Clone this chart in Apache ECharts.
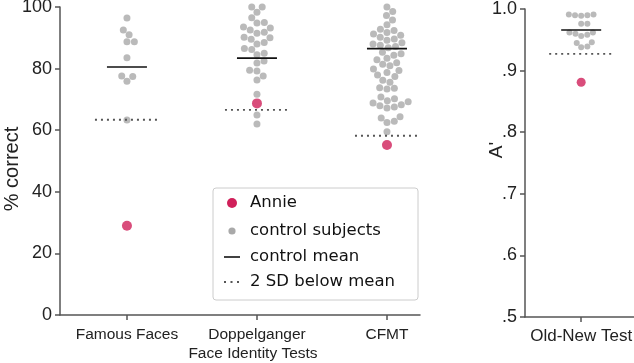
<!DOCTYPE html>
<html><head><meta charset="utf-8">
<script src="https://cdn.jsdelivr.net/npm/echarts@6/dist/echarts.min.js"></script>
<style>html,body{margin:0;padding:0;background:#fff}#c{width:634px;height:363px}</style>
</head><body><div id="c"></div>
<script>
// ---- data ----
const faceTests = ['Famous Faces', 'Doppelganger', 'CFMT'];
const oldNewTests = ['Old-New Test'];
const famousControls = [96.4, 92.5, 91.0, 88.7, 88.7, 83.5, 77.6, 77.4, 75.9, 63.3];
const doppelControls = [100, 100, 98.3, 96.5, 95, 94.8, 93.5, 93.2, 92.5, 91.8, 91.5, 90.2, 90, 89.5, 88.5, 88, 86.5, 86.2, 85, 84.5,
  82.5, 81.8, 79.5, 79.2, 77.6, 76.3, 71.7, 64.9, 62];
const cfmtControls = [100, 98.5, 97.2, 95.8, 94.2, 92.8, 92.4, 91.7, 91.2, 90.8, 90.2, 89.6, 89.2, 88.4, 88, 87.6, 87.2, 86.8,
  85.3, 84.8, 84.3, 83.4, 82.9, 81.9, 81.4, 80.9, 79.9, 79.4, 78.7, 77.9, 77.4, 76.2, 75.6, 73.8, 73.6, 73.4,
  70.8, 70.2, 69.6, 69.2, 68.8, 68.3, 67.9, 67.5, 67.2, 64.4, 64, 62.9, 62.5, 59.5];
const oldNewControls = [0.991, 0.991, 0.990, 0.990, 0.989, 0.976, 0.976, 0.962, 0.962, 0.960, 0.958, 0.956, 0.946, 0.945, 0.939, 0.938];
const annieFace = [29.0, 68.7, 55.2];
const annieOldNew = [0.881];
const faceMeans = [80.5, 83.4, 86.5];
const faceSD2 = [63.4, 66.6, 58.2];
const oldNewMean = [0.966];
const oldNewSD2 = [0.927];
const leftTickLabels = ['0', '20', '40', '60', '80', '100'];
const rightTickLabels = ['.5', '.6', '.7', '.8', '.9', '1.0'];
const legendNames = ['Annie', 'control subjects', 'control mean', '2 SD below mean'];

// ---- styles ----
const RED = '#d0205a', GRAY = '#a9a9a9', AX = '#555', TXT = '#222';
const SANS = 'Liberation Sans, Arial, Helvetica, sans-serif';
const LEG = 'DejaVu Sans, sans-serif';

const chart = echarts.init(document.getElementById('c'));

function seg(half, style) {
  return function (params, api) {
    const p = api.coord([api.value(0), api.value(1)]);
    return { type: 'line', shape: { x1: p[0] - half, y1: p[1], x2: p[0] + half, y2: p[1] }, style: style };
  };
}
const meanStyle = { stroke: '#111', lineWidth: 1.6 };
const sdStyle = { stroke: '#555', lineWidth: 1.8, lineDash: [2, 4] };

const axisBase = {
  axisLine: { show: true, onZero: false, lineStyle: { color: AX, width: 1.5 } },
  axisTick: { show: true, length: 5, lineStyle: { color: AX, width: 1.5 } },
  splitLine: { show: false }
};

const option = {
  animation: false,
  grid: [
    { left: 60, top: 7, right: 214, bottom: 48, containLabel: false, outerBoundsMode: 'none' },
    { left: 525, top: 9, right: 0, bottom: 46, containLabel: false, outerBoundsMode: 'none' }
  ],
  xAxis: [
    Object.assign({}, axisBase, {
      gridIndex: 0, type: 'value', min: -0.515, max: 2.254,
      axisTick: { show: true, length: 5, customValues: [0, 1, 2], lineStyle: { color: AX, width: 1.5 } },
      axisLabel: { customValues: [0, 1, 2], formatter: v => faceTests[Math.round(v)], color: TXT, fontSize: 15.5, fontFamily: SANS, margin: 12 },
      name: 'Face Identity Tests', nameLocation: 'middle', nameGap: 31, nameMoveOverlap: false,
      nameTextStyle: { color: TXT, fontSize: 15.5, fontFamily: SANS, padding: [0, 0, 0, 26] }
    }),
    Object.assign({}, axisBase, {
      gridIndex: 1, type: 'value', min: -0.5, max: 0.47,
      axisTick: { show: true, length: 5, customValues: [0], lineStyle: { color: AX, width: 1.5 } },
      axisLabel: { customValues: [0], formatter: v => oldNewTests[Math.round(v)], color: TXT, fontSize: 17, fontFamily: SANS, margin: 11 }
    })
  ],
  yAxis: [
    Object.assign({}, axisBase, {
      gridIndex: 0, type: 'value', min: 0, max: 100, interval: 20,
      axisLabel: { formatter: v => leftTickLabels[Math.round(v / 20)], color: TXT, fontSize: 18, fontFamily: SANS, margin: 8 },
      name: '% correct', nameLocation: 'middle', nameGap: 38, nameMoveOverlap: false,
      nameTextStyle: { color: TXT, fontSize: 20, fontFamily: SANS, padding: [0, 16, 0, 0] }
    }),
    Object.assign({}, axisBase, {
      gridIndex: 1, type: 'value', min: 0.5, max: 1.0, interval: 0.1,
      axisLabel: { formatter: v => rightTickLabels[Math.round((v - 0.5) / 0.1)], color: TXT, fontSize: 18, fontFamily: SANS, margin: 8 },
      name: "A'", nameLocation: 'middle', nameGap: 19, nameMoveOverlap: false,
      nameTextStyle: { color: TXT, fontSize: 19, fontFamily: SANS, padding: [0, 0, 0, 26] }
    })
  ],
  series: []
};
chart.setOption(option);

function swarm(gridIndex, xc, values, diam) {
  const cx = chart.convertToPixel({ gridIndex: gridIndex }, [xc, values[0]])[0];
  const pts = values.map(v => ({ v: v, py: chart.convertToPixel({ gridIndex: gridIndex }, [xc, v])[1] }));
  pts.sort((a, b) => b.py - a.py);
  const placed = [];
  pts.forEach(p => {
    const cands = [0];
    placed.forEach(q => {
      const dy = Math.abs(q.py - p.py);
      if (dy < diam) { const dx = Math.sqrt(diam * diam - dy * dy); cands.push(q.dx + dx, q.dx - dx); }
    });
    cands.sort((a, b) => Math.abs(a) - Math.abs(b));
    let best = 0;
    for (const c of cands) {
      if (placed.every(q => (c - q.dx) * (c - q.dx) + (p.py - q.py) * (p.py - q.py) >= diam * diam - 0.01)) { best = c; break; }
    }
    placed.push({ dx: best, py: p.py, v: p.v });
  });
  return placed.map(q => [chart.convertFromPixel({ gridIndex: gridIndex }, [cx + q.dx, q.py])[0], q.v]);
}

const leftDots = [].concat(swarm(0, 0, famousControls, 7.4), swarm(0, 1, doppelControls, 7.4), swarm(0, 2, cfmtControls, 7.4));
const rightDots = swarm(1, 0, oldNewControls, 6.2);

const noEmph = { disabled: true };
option.series = [
  { type: 'scatter', xAxisIndex: 0, yAxisIndex: 0, data: leftDots, symbolSize: 7, itemStyle: { color: GRAY }, z: 2, emphasis: noEmph, silent: true },
  { type: 'custom', xAxisIndex: 0, yAxisIndex: 0, data: faceMeans.map((m, i) => [i, m]), renderItem: seg(20, meanStyle), z: 3, clip: false, silent: true },
  { type: 'custom', xAxisIndex: 0, yAxisIndex: 0, data: faceSD2.map((m, i) => [i, m]), renderItem: seg(32, sdStyle), z: 3, clip: false, silent: true },
  { type: 'scatter', xAxisIndex: 0, yAxisIndex: 0, data: annieFace.map((v, i) => [i, v]), symbolSize: 10, itemStyle: { color: RED }, z: 4, emphasis: noEmph, silent: true },
  { type: 'scatter', xAxisIndex: 1, yAxisIndex: 1, data: rightDots, symbolSize: 6, itemStyle: { color: GRAY }, z: 2, emphasis: noEmph, silent: true },
  { type: 'custom', xAxisIndex: 1, yAxisIndex: 1, data: oldNewMean.map((m, i) => [i, m]), renderItem: seg(20, meanStyle), z: 3, clip: false, silent: true },
  { type: 'custom', xAxisIndex: 1, yAxisIndex: 1, data: oldNewSD2.map((m, i) => [i, m]), renderItem: seg(32, sdStyle), z: 3, clip: false, silent: true },
  { type: 'scatter', xAxisIndex: 1, yAxisIndex: 1, data: annieOldNew.map((v, i) => [i, v]), symbolSize: 9, itemStyle: { color: RED }, z: 4, emphasis: noEmph, silent: true }
];

const LX = 213, LY = 188, rows = [203, 231, 257, 282];
const legTextStyle = (t, y) => ({ type: 'text', x: 250, y: y, style: { text: t, fill: '#111', font: '16.5px ' + LEG, textVerticalAlign: 'middle', verticalAlign: 'middle' }, z: 11 });
option.graphic = [
  { type: 'rect', shape: { x: LX, y: LY, width: 205, height: 112, r: 3 }, style: { fill: 'rgba(255,255,255,0.9)', stroke: '#cccccc', lineWidth: 1 }, z: 10 },
  { type: 'circle', shape: { cx: 232, cy: rows[0], r: 5 }, style: { fill: RED }, z: 11 },
  { type: 'circle', shape: { cx: 232, cy: rows[1], r: 3.6 }, style: { fill: GRAY }, z: 11 },
  { type: 'line', shape: { x1: 224, y1: rows[2], x2: 240, y2: rows[2] }, style: meanStyle, z: 11 },
  { type: 'line', shape: { x1: 224, y1: rows[3], x2: 240, y2: rows[3] }, style: { stroke: '#555', lineWidth: 1.8, lineDash: [2, 4.5] }, z: 11 },
  legTextStyle(legendNames[0], rows[0]), legTextStyle(legendNames[1], rows[1]),
  legTextStyle(legendNames[2], rows[2]), legTextStyle(legendNames[3], rows[3])
];
chart.setOption(option, true);
</script></body></html>
